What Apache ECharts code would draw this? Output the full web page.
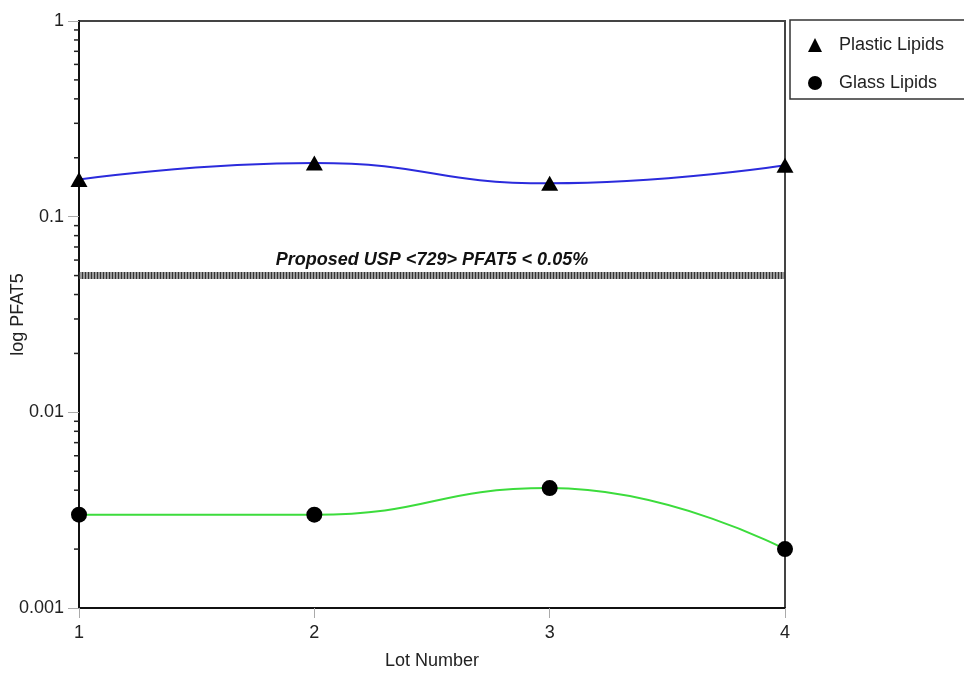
<!DOCTYPE html>
<html>
<head>
<meta charset="utf-8">
<script src="https://cdn.jsdelivr.net/npm/echarts@6/dist/echarts.min.js"></script>
<style>
html,body{margin:0;padding:0;background:#fff;}
#chart{width:964px;height:673px;}
</style>
</head>
<body>
<div id="chart"></div>
<script>
// ---- data ----
var lots = [1, 2, 3, 4];
var plasticLipids = [0.155, 0.188, 0.148, 0.183];
var glassLipids = [0.003, 0.003, 0.0041, 0.002];
var thresholdValue = 0.05;
var thresholdLabel = 'Proposed USP <729> PFAT5 < 0.05%';
var yTickLabels = ['0.001', '0.01', '0.1', '1'];
var xTickLabels = ['1', '2', '3', '4'];
var decades = [0.001, 0.01, 0.1];
var minorSteps = [2, 3, 4, 5, 6, 7, 8, 9];

var minorTickValues = [];
decades.forEach(function (d) {
  minorSteps.forEach(function (k) { minorTickValues.push([lots[0], +(k * d).toPrecision(3)]); });
});

var FONT = 'Liberation Sans, Arial, sans-serif';
var chart = echarts.init(document.getElementById('chart'));

chart.setOption({
  backgroundColor: '#fff',
  animation: false,
  grid: {
    left: 79, right: 179, top: 21, bottom: 65,
    containLabel: false, outerBoundsMode: 'none',
    show: true, borderColor: '#444', borderWidth: 2, backgroundColor: 'transparent'
  },
  legend: {
    orient: 'vertical',
    left: 803, top: 31,
    itemWidth: 14, itemHeight: 14, itemGap: 20,
    textStyle: { fontFamily: FONT, fontSize: 18, color: '#222', padding: [0, 0, 0, 12] },
    data: [
      { name: 'Plastic Lipids', icon: 'triangle', itemStyle: { color: '#000' } },
      { name: 'Glass Lipids', icon: 'circle', itemStyle: { color: '#000' } }
    ]
  },
  graphic: [{
    type: 'rect',
    shape: { x: 790, y: 20, width: 176, height: 79 },
    style: { fill: 'none', stroke: '#333', lineWidth: 1.5 },
    silent: true
  }],
  xAxis: {
    type: 'value', min: 1, max: 4, interval: 1,
    name: 'Lot Number', nameLocation: 'middle', nameGap: 44, nameMoveOverlap: false,
    nameTextStyle: { fontFamily: FONT, fontSize: 18, color: '#222' },
    axisLine: { show: true, lineStyle: { color: '#111', width: 2 } },
    axisTick: { show: true, length: 10, lineStyle: { color: '#aaa', width: 1 } },
    axisLabel: {
      fontFamily: FONT, fontSize: 18, color: '#222', margin: 16,
      formatter: function (v) { var i = lots.indexOf(v); return i >= 0 ? xTickLabels[i] : ''; }
    },
    splitLine: { show: false }
  },
  yAxis: {
    type: 'log', logBase: 10, min: 0.001, max: 1,
    name: 'log PFAT5', nameLocation: 'middle', nameGap: 52, nameMoveOverlap: false,
    nameTextStyle: { fontFamily: FONT, fontSize: 18, color: '#222' },
    axisLine: { show: true, lineStyle: { color: '#111', width: 2 } },
    axisTick: { show: true, length: 11, lineStyle: { color: '#aaa', width: 1 } },
    axisLabel: {
      fontFamily: FONT, fontSize: 18, color: '#222', margin: 15,
      formatter: function (v) {
        var e = Math.round(Math.log10(v));
        return yTickLabels[e + 3] || '';
      }
    },
    splitLine: { show: false }
  },
  series: [
    {
      name: 'Plastic Lipids', type: 'line', smooth: 0.5,
      data: lots.map(function (x, i) { return [x, plasticLipids[i]]; }),
      symbol: 'triangle', symbolSize: [17, 15],
      itemStyle: { color: '#000' },
      lineStyle: { color: '#2b2bdc', width: 2 },
      z: 3
    },
    {
      name: 'Glass Lipids', type: 'line', smooth: 0.5,
      data: lots.map(function (x, i) { return [x, glassLipids[i]]; }),
      symbol: 'circle', symbolSize: 16,
      itemStyle: { color: '#000' },
      lineStyle: { color: '#3cdc3c', width: 2 },
      z: 3
    },
    {
      name: 'threshold', type: 'line', data: [], silent: true,
      markLine: {
        symbol: 'none', silent: true, animation: false,
        data: [
          { yAxis: thresholdValue, lineStyle: { color: '#9a9a9a', width: 7, type: 'solid' },
            label: {
              show: true, position: 'insideMiddleTop', distance: 7,
              formatter: thresholdLabel,
              fontFamily: FONT, fontSize: 18, fontWeight: 'bold', fontStyle: 'italic', color: '#111'
            } },
          { yAxis: thresholdValue, lineStyle: { color: '#333', width: 7, type: [1, 2] },
            label: { show: false } }
        ]
      }
    },
    {
      name: 'minorTicks', type: 'custom', silent: true, clip: false,
      data: minorTickValues,
      renderItem: function (params, api) {
        var p = api.coord([api.value(0), api.value(1)]);
        return {
          type: 'line',
          shape: { x1: p[0] - 5, y1: p[1], x2: p[0], y2: p[1] },
          style: { stroke: '#222', lineWidth: 1.5 }
        };
      }
    }
  ]
});
</script>
</body>
</html>
